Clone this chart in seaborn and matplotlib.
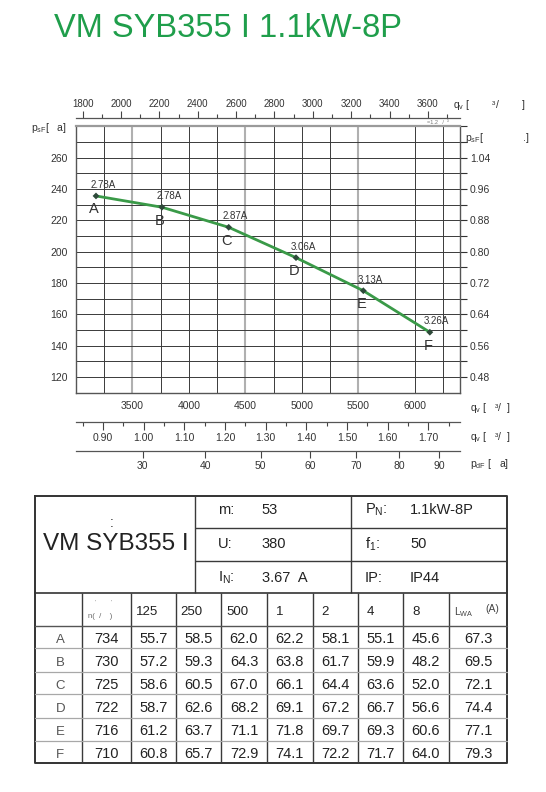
import numpy as np
import pandas as pd
import matplotlib
matplotlib.use("Agg")
import matplotlib.pyplot as plt
import seaborn as sns

# ---------------- data ----------------
title = "VM SYB355 I 1.1kW-8P"
model = "VM SYB355 I"
points = ["A", "B", "C", "D", "E", "F"]
flow_m3h = [3177, 3761, 4352, 4948, 5544, 6133]
p_static = [235.6, 228.4, 215.6, 196.2, 175.1, 148.6]
current_a = [2.78, 2.78, 2.87, 3.06, 3.13, 3.26]

speed_rpm = [734, 730, 725, 722, 716, 710]
band_labels = ["125", "250", "500", "1", "2", "4", "8"]
lw_125 = [55.7, 57.2, 58.6, 58.7, 61.2, 60.8]
lw_250 = [58.5, 59.3, 60.5, 62.6, 63.7, 65.7]
lw_500 = [62.0, 64.3, 67.0, 68.2, 71.1, 72.9]
lw_1k = [62.2, 63.8, 66.1, 69.1, 71.8, 74.1]
lw_2k = [58.1, 61.7, 64.4, 67.2, 69.7, 72.2]
lw_4k = [55.1, 59.9, 63.6, 66.7, 69.3, 71.7]
lw_8k = [45.6, 48.2, 52.0, 56.6, 60.6, 64.0]
lwa_total = [67.3, 69.5, 72.1, 74.4, 77.1, 79.3]

spec_left_keys = ["m:", "U:", r"I$_\mathrm{N}$:"]
spec_left_vals = ["53", "380", "3.67  A"]
spec_right_keys = [r"P$_\mathrm{N}$:", r"f$_\mathrm{1}$:", "IP:"]
spec_right_vals = ["1.1kW-8P", "50", "IP44"]

ticks_m3h = [3500, 4000, 4500, 5000, 5500, 6000]
ticks_cfm = [1800, 2000, 2200, 2400, 2600, 2800, 3000, 3200, 3400, 3600]
ticks_m3s = [0.90, 1.00, 1.10, 1.20, 1.30, 1.40, 1.50, 1.60, 1.70]
ticks_pd = [30, 40, 50, 60, 70, 80, 90]
ticks_ps = [120, 140, 160, 180, 200, 220, 240, 260]
ticks_ps_in = [0.48, 0.56, 0.64, 0.72, 0.80, 0.88, 0.96, 1.04]

# unit conversions
CFM = 1.699
OUTLET_AREA = 0.1410
def m3h_to_cfm(q): return np.asarray(q, float) / CFM
def cfm_to_m3h(c): return np.asarray(c, float) * CFM
def m3h_to_m3s(q): return np.asarray(q, float) / 3600.0
def m3s_to_m3h(v): return np.asarray(v, float) * 3600.0
def m3h_to_pd(q):
    q = np.asarray(q, float)
    return 0.6 * (q / 3600.0 / OUTLET_AREA) ** 2
def pd_to_m3h(p):
    p = np.clip(np.asarray(p, float), 0, None)
    return 3600.0 * OUTLET_AREA * np.sqrt(p / 0.6)
def pa_to_in(p): return np.asarray(p, float) * 0.004
def in_to_pa(v): return np.asarray(v, float) / 0.004

# ---------------- style ----------------
sns.set_theme(style="white")
plt.rcParams["font.family"] = ["Liberation Sans", "DejaVu Sans"]
plt.rcParams["mathtext.fontset"] = "custom"
plt.rcParams["mathtext.rm"] = "Liberation Sans"
plt.rcParams["mathtext.it"] = "Liberation Sans:italic"
plt.rcParams["mathtext.bf"] = "Liberation Sans:bold"

GREEN_T = "#1f9e4b"
GREEN_C = "#3a9a48"
DARK = "#333333"

W, H = 546, 792
fig = plt.figure(figsize=(W / 100, H / 100), dpi=100)

tax = fig.add_axes([0, 0, 1, 1])
tax.set_xlim(0, W)
tax.set_ylim(H, 0)
tax.axis("off")
tax.patch.set_alpha(0)

# ---------------- main chart ----------------
ax_left, ax_right, ax_top, ax_bot = 76, 460, 126.4, 392.7
ax = fig.add_axes([ax_left / W, 1 - ax_bot / H, (ax_right - ax_left) / W, (ax_bot - ax_top) / H])
ax.set_xlim(3000, 6400)
ax.set_ylim(110, 280)

ax.set_xticks(ticks_m3h, labels=[str(v) for v in ticks_m3h])
ax.set_xticks(np.array(ticks_m3h[:-1]) - 250, minor=True)
ax.xaxis.set_ticks(list(ax.get_xticks(minor=True)) + [6250], minor=True)
ax.set_yticks(ticks_ps, labels=[str(v) for v in ticks_ps])
ax.set_yticks(list(np.array(ticks_ps) + 10) + [280], minor=True)
ax.grid(which="both", color="#3a3a3a", lw=0.7)
for gl, v in zip(ax.get_xgridlines(), ticks_m3h):
    if v % 1000 == 500:
        gl.set_color("#b0b0b0")
        gl.set_linewidth(1.5)
ax.tick_params(axis="x", which="both", length=0, pad=6, labelsize=7.5, labelcolor=DARK)
ax.tick_params(axis="y", which="both", direction="out", length=4, width=0.8,
               color="#333", labelsize=7.5, pad=2, labelcolor=DARK)
for s in ["left", "right", "bottom"]:
    ax.spines[s].set_color("#555")
    ax.spines[s].set_linewidth(1.0)
ax.spines["top"].set_color("#9a9a9a")
ax.spines["top"].set_linewidth(1.6)

df = pd.DataFrame({"q": flow_m3h, "p": p_static, "pt": points, "I": current_a})
sns.lineplot(data=df, x="q", y="p", ax=ax, color=GREEN_C, lw=2.0, sort=False, zorder=3)
sns.scatterplot(data=df, x="q", y="p", ax=ax, marker="D", s=12, color="#2e4a3a",
                edgecolor="none", zorder=4)
ax.set_xlabel("")
ax.set_ylabel("")
for q, p, pt, cur in zip(flow_m3h, p_static, points, current_a):
    ax.annotate(f"{cur:.2f}A", (q, p), xytext=(5, 7.9), textcoords="offset points",
                ha="center", va="center", fontsize=7, color="#333")
    ax.annotate(pt, (q, p), xytext=(-1.4, -9.7), textcoords="offset points",
                ha="center", va="center", fontsize=10.5, color="#333")

# right axis (inch water)
sy = ax.secondary_yaxis("right", functions=(pa_to_in, in_to_pa))
sy.set_yticks(ticks_ps_in, labels=[f"{v:.2f}" for v in ticks_ps_in])
sy.set_yticks(list(pa_to_in(np.array(ticks_ps) + 10)) + [float(pa_to_in(280))], minor=True)
sy.tick_params(which="both", direction="out", length=5, width=0.8, color="#333",
               labelsize=7.5, pad=2, labelcolor=DARK)
sy.spines["right"].set_visible(False)

# top axis (cfm)
h_ax = ax_bot - ax_top
tx = ax.secondary_xaxis(1 + 8.4 / h_ax, functions=(m3h_to_cfm, cfm_to_m3h))
tx.set_xticks(ticks_cfm, labels=[str(v) for v in ticks_cfm])
tx.set_xticks(np.array(ticks_cfm) + 100, minor=True)
tx.tick_params(which="major", direction="out", length=5, width=0.8, color="#444",
               labelsize=7, pad=1.5, labelcolor=DARK)
tx.tick_params(which="minor", direction="out", length=3, width=0.8, color="#444")
tx.spines["top"].set_color("#555")
tx.spines["top"].set_linewidth(0.9)

# bottom strip 2 (m3/s)
s2 = ax.secondary_xaxis(-(422.5 - ax_bot) / h_ax, functions=(m3h_to_m3s, m3s_to_m3h))
s2.set_xticks(ticks_m3s, labels=[f"{v:.2f}" for v in ticks_m3s])
s2.set_xticks(np.array(ticks_m3s) - 0.05, minor=True)
s2.xaxis.set_ticks(list(np.array(ticks_m3s) - 0.05) + [1.75], minor=True)
s2.tick_params(which="major", direction="out", length=6, width=0.8, color="#444",
               labelsize=7.5, pad=1.5, labelcolor=DARK)
s2.tick_params(which="minor", direction="out", length=3, width=0.8, color="#444")
s2.spines["bottom"].set_color("#555")
s2.spines["bottom"].set_linewidth(0.9)

# bottom strip 3 (dynamic pressure)
s3 = ax.secondary_xaxis(-(451 - ax_bot) / h_ax, functions=(m3h_to_pd, pd_to_m3h))
s3.set_xticks(ticks_pd, labels=[str(v) for v in ticks_pd])
s3.tick_params(which="major", direction="out", length=5, width=0.8, color="#444",
               labelsize=7.5, pad=2.5, labelcolor=DARK)
s3.xaxis.set_minor_locator(matplotlib.ticker.NullLocator())
s3.spines["bottom"].set_color("#555")
s3.spines["bottom"].set_linewidth(0.9)

# axis unit labels
lab_kw = dict(fontsize=7.5, color=DARK, va="center", ha="left")
tax.text(453, 105, r"q$_\mathrm{v}$ [        ³/        ]", **lab_kw)
tax.text(31, 128, r"p$_\mathrm{sF}$[   a]", **lab_kw)
tax.text(465, 138, r"p$_\mathrm{sF}$[              .]", **lab_kw)
tax.text(470, 408, r"q$_\mathrm{v}$ [   ³/  ]", **lab_kw)
tax.text(470, 437.5, r"q$_\mathrm{v}$ [   ³/  ]", **lab_kw)
tax.text(470, 464, r"p$_\mathrm{dF}$ [   a]", **lab_kw)
tax.text(427, 122.5, "=1.2   /  ³", fontsize=4, color="#777", va="center", ha="left")

# ---------------- title ----------------
tax.text(54, 36.7, title, fontsize=23.5, color=GREEN_T, va="baseline", ha="left")

# ---------------- table ----------------
T_L, T_R, T_T, T_B = 35, 507.3, 496, 763.3
col_x = [35, 81.7, 130.7, 175.7, 221.3, 266.7, 312.7, 357.7, 403.3, 448.7, 507.3]
row_y = [593.3, 625.7, 648.3, 671.7, 694.3, 717.7, 740.7, 763.3]
up_div_x = [195, 351]
up_row_y = [528, 561]
line_dark = dict(color="#3a3a3a", lw=1.0, solid_capstyle="butt")
# outer border
tax.plot([T_L, T_R, T_R, T_L, T_L], [T_T, T_T, T_B, T_B, T_T], color="#333", lw=1.4)
# upper section
for x in up_div_x:
    tax.plot([x, x], [T_T, row_y[0]], **line_dark)
for y in up_row_y:
    tax.plot([up_div_x[0], T_R], [y, y], **line_dark)
tax.plot([T_L, T_R], [row_y[0], row_y[0]], color="#333", lw=1.2)
# lower section
for x in col_x[1:-1]:
    tax.plot([x, x], [row_y[0], T_B], **line_dark)
tax.plot([T_L, T_R], [row_y[1], row_y[1]], color="#555", lw=1.0)
for y in row_y[2:-1]:
    tax.plot([T_L, T_R], [y, y], color="#a8a8a8", lw=0.9)

# upper-left cell
tax.text(112, 527, ":", fontsize=10, color=DARK, ha="center", va="baseline")
tax.text(116, 550, model, fontsize=17.5, color="#222", ha="center", va="baseline")
spec_base = [514, 548.3, 581.7]
for k, v, yb in zip(spec_left_keys, spec_left_vals, spec_base):
    tax.text(218, yb, k, fontsize=10.5, color="#222", ha="left", va="baseline")
    tax.text(261.5, yb, v, fontsize=10.5, color="#222", ha="left", va="baseline")
for k, v, yb in zip(spec_right_keys, spec_right_vals, spec_base):
    tax.text(365, yb, k, fontsize=10.5, color="#222", ha="left", va="baseline")
    tax.text(410, yb, v, fontsize=10.5, color="#222", ha="left", va="baseline")

# header row
hdr_base = 615
tax.text(88, 616, "n(  /    )", fontsize=5.5, color="#666", ha="left", va="center")
tax.text(104, 602.5, "'          '", fontsize=4, color="#888", ha="center", va="center")
for i, lbl in enumerate(band_labels):
    pad = 5 if len(lbl) > 1 else 9
    tax.text(col_x[i + 2] + pad, hdr_base, lbl, fontsize=9.5, color="#222",
             ha="left", va="baseline")
tax.text(454, hdr_base, r"L$_\mathrm{WA}$", fontsize=7.5, color="#444", ha="left", va="baseline")
tax.text(485, 612.5, "(A)", fontsize=7.5, color="#444", ha="left", va="baseline")

# body rows
table_df = pd.DataFrame({
    "pt": points, "n": speed_rpm, "125": lw_125, "250": lw_250, "500": lw_500,
    "1k": lw_1k, "2k": lw_2k, "4k": lw_4k, "8k": lw_8k, "LwA": lwa_total,
})
for r, row in table_df.iterrows():
    yb = row_y[r + 2] - 5.6
    tax.text((col_x[0] + col_x[1]) / 2 + 2, yb, row["pt"], fontsize=9.5, color="#555",
             ha="center", va="baseline")
    vals = [f"{row['n']:d}"] + [f"{row[c]:.1f}" for c in
                                ["125", "250", "500", "1k", "2k", "4k", "8k", "LwA"]]
    for j, s in enumerate(vals):
        cx = (col_x[j + 1] + col_x[j + 2]) / 2
        tax.text(cx, yb, s, fontsize=10.5, color="#222", ha="center", va="baseline")

fig.savefig("out.png", dpi=100, facecolor="white")
